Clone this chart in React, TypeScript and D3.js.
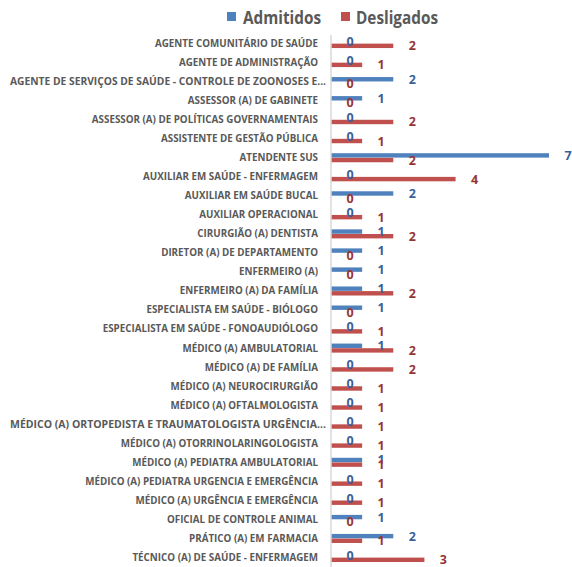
import React from "react";
import * as d3 from "d3";

const categories = [
  "AGENTE COMUNITÁRIO DE SAÚDE",
  "AGENTE DE ADMINISTRAÇÃO",
  "AGENTE DE SERVIÇOS DE SAÚDE - CONTROLE DE ZOONOSES E...",
  "ASSESSOR (A) DE GABINETE",
  "ASSESSOR (A) DE POLÍTICAS GOVERNAMENTAIS",
  "ASSISTENTE DE GESTÃO PÚBLICA",
  "ATENDENTE SUS",
  "AUXILIAR EM SAÚDE - ENFERMAGEM",
  "AUXILIAR EM SAÚDE BUCAL",
  "AUXILIAR OPERACIONAL",
  "CIRURGIÃO (A) DENTISTA",
  "DIRETOR (A) DE DEPARTAMENTO",
  "ENFERMEIRO (A)",
  "ENFERMEIRO (A) DA FAMÍLIA",
  "ESPECIALISTA EM SAÚDE - BIÓLOGO",
  "ESPECIALISTA EM SAÚDE - FONOAUDIÓLOGO",
  "MÉDICO (A) AMBULATORIAL",
  "MÉDICO (A) DE FAMÍLIA",
  "MÉDICO (A) NEUROCIRURGIÃO",
  "MÉDICO (A) OFTALMOLOGISTA",
  "MÉDICO (A) ORTOPEDISTA E TRAUMATOLOGISTA URGÊNCIA...",
  "MÉDICO (A) OTORRINOLARINGOLOGISTA",
  "MÉDICO (A) PEDIATRA AMBULATORIAL",
  "MÉDICO (A) PEDIATRA URGENCIA E EMERGÊNCIA",
  "MÉDICO (A) URGÊNCIA E EMERGÊNCIA",
  "OFICIAL DE CONTROLE ANIMAL",
  "PRÁTICO (A) EM FARMACIA",
  "TÉCNICO (A) DE SAÚDE - ENFERMAGEM",
];

const admitidos = [0, 0, 2, 1, 0, 0, 7, 0, 2, 0, 1, 1, 1, 1, 1, 0, 1, 0, 0, 0, 0, 0, 1, 0, 0, 1, 2, 0];
const desligados = [2, 1, 0, 0, 2, 1, 2, 4, 0, 1, 2, 0, 0, 2, 0, 1, 2, 2, 1, 1, 1, 1, 1, 1, 1, 0, 1, 3];

const seriesNames = ["Admitidos", "Desligados"];
const barColors = ["#4F81BD", "#C0504D"];
const labelColors = ["#3A5F9A", "#963634"];

const W = 572;
const H = 567;
const FONT = "'Open Sans', 'Noto Sans', sans-serif";

export default function App() {
  const x = d3.scaleLinear().domain([0, 7]).range([331, 549]);
  const y = d3.scaleBand<string>().domain(categories).range([34, 567]).paddingInner(0.5).paddingOuter(0.25);
  const sub = d3.scaleBand<string>().domain(seriesNames).range([0, y.bandwidth()]).padding(0.05);
  const values = [admitidos, desligados];

  return (
    <svg width={W} height={H} style={{ position: "absolute", left: 0, top: 0 }}>
      <rect width={W} height={H} fill="#ffffff" />
      {/* legend */}
      <g fontFamily={FONT} fontWeight="bold" fontSize={17} fill="#595959">
        <rect x={227} y={12} width={9} height={9} fill={barColors[0]} />
        <text x={243} y={23.5} textLength={78} lengthAdjust="spacingAndGlyphs">Admitidos</text>
        <rect x={341} y={12} width={9} height={9} fill={barColors[1]} />
        <text x={356} y={23.5} textLength={82} lengthAdjust="spacingAndGlyphs">Desligados</text>
      </g>
      {/* category labels */}
      <g fontFamily={FONT} fontWeight="bold" fontSize={9.8} fill="#595959" textAnchor="end">
        {categories.map((c) => (
          <text
            key={c}
            x={c.endsWith("...") ? 326 : 318}
            y={(y(c) as number) + y.bandwidth() / 2}
            dy="0.35em"
            textLength={c.endsWith("...") ? 316 : undefined}
            lengthAdjust="spacingAndGlyphs"
          >
            {c}
          </text>
        ))}
      </g>
      {/* bars */}
      {seriesNames.map((s, si) => (
        <g key={s} fill={barColors[si]}>
          {categories.map((c, i) => (
            <rect
              key={c}
              x={x(0)}
              y={(y(c) as number) + (sub(s) as number)}
              width={x(values[si][i]) - x(0)}
              height={sub.bandwidth()}
            />
          ))}
        </g>
      ))}
      {/* axis line */}
      <line x1={x(0)} x2={x(0)} y1={35} y2={567} stroke="#D9D9D9" strokeWidth={1.5} />
      {/* data labels */}
      {seriesNames.map((s, si) => (
        <g key={s} fontFamily={FONT} fontWeight="bold" fontSize={12.5} fill={labelColors[si]} textAnchor="middle">
          {categories.map((c, i) => (
            <text
              key={c}
              x={x(values[si][i]) + 19}
              y={(y(c) as number) + (sub(s) as number) + sub.bandwidth() / 2}
              dy="0.36em"
            >
              {values[si][i]}
            </text>
          ))}
        </g>
      ))}
    </svg>
  );
}
